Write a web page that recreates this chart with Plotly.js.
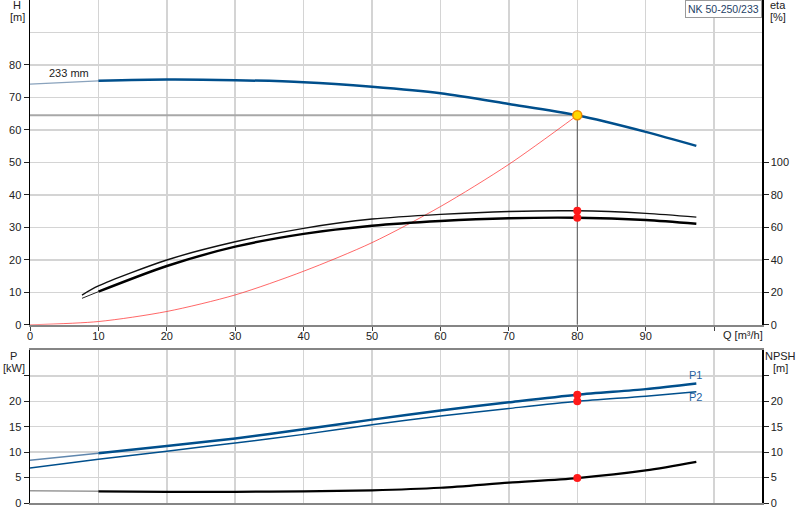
<!DOCTYPE html>
<html><head><meta charset="utf-8">
<script src="https://cdn.plot.ly/plotly-3.0.1.min.js"></script>
<style>html,body{margin:0;padding:0;background:#fff}</style>
</head><body><div id="chart" style="width:800px;height:520px"></div>
<script>
// ---- tick labels ----
const qTicks = [0,10,20,30,40,50,60,70,80,90,100];
const qTickLabels = ['0','10','20','30','40','50','60','70','80','90',''];
const hTicks = [0,10,20,30,40,50,60,70,80];
const etaTicks = [0,20,40,60,80,100];
const pTicks = [0,5,10,15,20,25];
const pTickLabels = ['0','5','10','15','20',''];

// ---- head curve (233 mm) ----
const qH = [0,10,20,30,40,50,60,70,80,90,97.4];
const head = [74.1,75.1,75.5,75.3,74.7,73.3,71.3,68.0,64.5,59.4,55.1];

// ---- system curve ----
const qSys = [0,10,20,30,40,50,60,70,80];
const hSys = [0,1.0,4.1,9.2,16.5,25.3,36.4,49.4,64.5];

// ---- efficiency curves ----
const qEta = [7.6,10,20,30,40,50,60,70,80,90,97.4];
const eta1 = [18.3,23.9,39.9,51.1,59.4,65.1,68.0,69.8,70.2,68.6,66.3];
const eta2 = [16.3,20.4,36.2,48.1,56.0,61.0,63.9,65.6,65.9,64.5,62.2];

// ---- power curves ----
const qP = [0,10,20,30,40,50,60,70,80,90,97.4];
const p1 = [8.4,9.8,11.2,12.7,14.5,16.4,18.2,19.8,21.3,22.4,23.5];
const p2 = [6.9,8.6,10.2,11.8,13.5,15.4,17.1,18.6,20.0,21.0,21.9];

// ---- NPSH curve ----
const qNpsh = [0,10,20,30,40,50,60,70,80,90,97.4];
const npsh = [2.4,2.3,2.2,2.2,2.3,2.5,3.0,4.0,4.9,6.4,8.1];

// ---- duty point ----
const dutyQ = [80];
const dutyH = [64.5];
const dutyEta = [70.2, 65.9];
const dutyP = [21.3, 20.0];
const dutyNpsh = [4.9];

function seg(xs, ys, lo, hi){
  const x=[], y=[];
  xs.forEach((v,i)=>{ if(v>=lo && v<=hi){ x.push(v); y.push(ys[i]); } });
  return {x, y};
}
const BLUE = '#004f8c';
const FONT = 'Liberation Sans, Arial, sans-serif';
const traces = [];
function line(d, xa, ya, color, width, opts){
  traces.push(Object.assign({type:'scatter', mode:'lines', x:d.x, y:d.y, xaxis:xa, yaxis:ya,
    line:{color:color, width:width, shape:'spline', smoothing:0.8}, hoverinfo:'skip', showlegend:false}, opts||{}));
}
// top plot
line(seg(qSys,hSys,0,200),'x','y','rgba(255,40,40,0.7)',1);
line({x:[0,dutyQ[0]], y:[dutyH[0],dutyH[0]]},'x','y','#a8a8a8',2,{line:{color:'#a8a8a8',width:2}});
line({x:[dutyQ[0],dutyQ[0]], y:[dutyH[0],0]},'x','y','#555',1,{line:{color:'#555',width:1}});
line(seg(qH,head,0,10),'x','y','#8aa3bd',1.3);
line(seg(qH,head,10,200),'x','y',BLUE,2.5);
line(seg(qEta,eta1,0,200),'x','y2','#111',1.4);
line(seg(qEta,eta2,0,10),'x','y2','#222',1);
line(seg(qEta,eta2,10,200),'x','y2','#000',2.4);
traces.push({type:'scatter',mode:'markers',x:[dutyQ[0],dutyQ[0]],y:dutyEta,xaxis:'x',yaxis:'y2',
  marker:{color:'#ff1a1a',size:8},hoverinfo:'skip',showlegend:false});
traces.push({type:'scatter',mode:'markers',x:dutyQ,y:dutyH,xaxis:'x',yaxis:'y',
  marker:{color:'#ffd800',size:9,line:{color:'#f08a00',width:1.5}},hoverinfo:'skip',showlegend:false});
// bottom plot
line(seg(qNpsh,npsh,0,10),'x2','y4','#9a9a9a',1.5);
line(seg(qNpsh,npsh,10,200),'x2','y4','#000',2.2);
line(seg(qP,p2,0,200),'x2','y3',BLUE,1.5);
line(seg(qP,p1,0,10),'x2','y3','#5f86ad',1.5);
line(seg(qP,p1,10,200),'x2','y3',BLUE,2.5);
traces.push({type:'scatter',mode:'markers',x:[dutyQ[0],dutyQ[0]],y:dutyP,xaxis:'x2',yaxis:'y3',
  marker:{color:'#ff1a1a',size:8},hoverinfo:'skip',showlegend:false});
traces.push({type:'scatter',mode:'markers',x:dutyQ,y:dutyNpsh,xaxis:'x2',yaxis:'y4',
  marker:{color:'#ff1a1a',size:8},hoverinfo:'skip',showlegend:false});

const GRID = '#d4d4d4';
const tf = {family:FONT, size:11, color:'#222'};
function ann(text, px, py, anchor, extra){
  return Object.assign({xref:'paper', yref:'paper', x:(px-30)/732, y:(503-py)/503, text:text,
    showarrow:false, xanchor:anchor||'center', yanchor:'middle', font:tf}, extra||{});
}
const layout = {
  width:800, height:520,
  margin:{l:30, r:38, t:0, b:17},
  paper_bgcolor:'#fff', plot_bgcolor:'#fff',
  font:{family:FONT, size:11, color:'#222'},
  showlegend:false,
  xaxis:{domain:[0,1], anchor:'y', range:[0,107], tickmode:'array', tickvals:qTicks, ticktext:qTickLabels,
    ticks:'outside', ticklen:4, tickcolor:'#444', tickfont:tf, ticklabelstandoff:-4, showgrid:true, gridcolor:GRID, gridwidth:1.5,
    showline:true, linecolor:'#858585', linewidth:2, mirror:true, zeroline:false},
  yaxis:{domain:[0.3543,1], anchor:'x', range:[0,100], tickmode:'array', tickvals:hTicks,
    ticks:'outside', ticklen:5, tickcolor:'#222', tickfont:tf, showgrid:true, gridcolor:GRID, gridwidth:1.5,
    minor:{tickmode:'array', tickvals:[90], showgrid:true, gridcolor:GRID, gridwidth:1.5, ticks:''},
    showline:true, linecolor:'#000', linewidth:1.5, zeroline:false},
  yaxis2:{overlaying:'y', side:'right', anchor:'x', range:[0,200], tickmode:'array', tickvals:etaTicks,
    ticks:'outside', ticklen:5, tickcolor:'#222', tickfont:tf, showgrid:false,
    showline:true, linecolor:'#000', linewidth:1.5, zeroline:false},
  xaxis2:{domain:[0,1], anchor:'y3', range:[0,107], tickmode:'array', tickvals:qTicks,
    showticklabels:false, ticks:'', showgrid:true, gridcolor:GRID, gridwidth:1.5,
    showline:true, linecolor:'#858585', linewidth:2, mirror:true, zeroline:false},
  yaxis3:{domain:[0,0.3032], anchor:'x2', range:[0,30], tickmode:'array', tickvals:pTicks, ticktext:pTickLabels,
    ticks:'outside', ticklen:5, tickcolor:'#222', tickfont:tf, showgrid:true, gridcolor:GRID, gridwidth:1.5,
    showline:true, linecolor:'#000', linewidth:1.5, zeroline:false},
  yaxis4:{overlaying:'y3', side:'right', anchor:'x2', range:[0,30], tickmode:'array', tickvals:pTicks, ticktext:pTickLabels,
    ticks:'outside', ticklen:5, tickcolor:'#222', tickfont:tf, showgrid:false,
    showline:true, linecolor:'#000', linewidth:1.5, zeroline:false},
  annotations:[
    ann('H',17,5.5), ann('[m]',17,17),
    ann('eta',768,5.5,'left'), ann('[%]',768,17,'left'),
    ann('P',13.5,356), ann('[kW]',13.5,367.5),
    ann('NPSH',780.5,356), ann('[m]',780.5,367.5),
    ann('Q [m³/h]',721,335,'left'),
    ann('233 mm',46.5,73,'left'),
    ann('P1',695,375,'center',{font:{family:FONT,size:11,color:'#1f5f9f'}}),
    ann('P2',695,397.5,'center',{font:{family:FONT,size:11,color:'#1f5f9f'}}),
    ann('NK 50-250/233',723.5,9.5,'center',{font:{family:FONT,size:10.5,color:'#253f66'},
      bgcolor:'#fff', bordercolor:'#9a9a9a', borderwidth:1, borderpad:2})
  ]
};
Plotly.newPlot('chart', traces, layout, {staticPlot:true, displayModeBar:false});
</script></body></html>
